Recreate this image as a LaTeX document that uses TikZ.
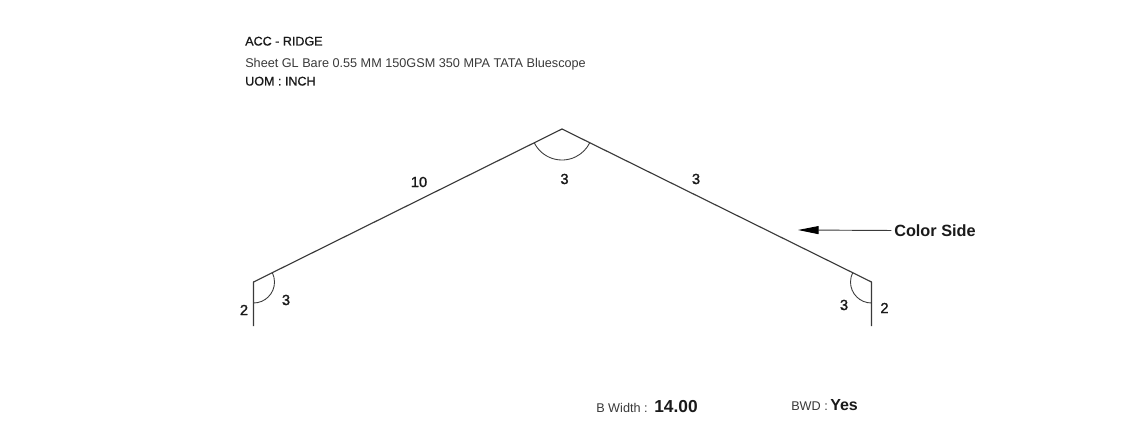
\documentclass[tikz,border=0pt]{standalone}
\usepackage{fontspec}
\setmainfont{Liberation Sans}
\newfontfamily\medfont[FakeBold=1.0]{Liberation Sans}
\newfontfamily\dimfont[FakeBold=1.4]{Liberation Sans}
\usetikzlibrary{arrows.meta}
\definecolor{ink}{HTML}{1A1A1A}
\definecolor{soft}{HTML}{3A3A3A}
\tikzset{
  sheet/.style={draw=soft,line width=0.85pt},
  anglearc/.style={draw=soft,line width=0.65pt},
  dim/.style={font=\fontsize{11}{13}\dimfont,text=ink,inner sep=0pt},
  hd/.style={anchor=base west,inner sep=0pt,text=ink,font=\fontsize{9.4}{11}\medfont},
  sub/.style={anchor=base west,inner sep=0pt,text=soft,font=\fontsize{9.5}{11}\selectfont},
  big/.style={anchor=base west,inner sep=0pt,text=ink},
}
\begin{document}
\begin{tikzpicture}[x=0.75pt,y=0.75pt]
\useasboundingbox (0,0) rectangle (1138,433);
\fill[white] (0,0) rectangle (1138,433);
\coordinate (a) at (253.5,107);
\coordinate (b) at (253.5,151);
\coordinate (c) at (562,304);
\coordinate (d) at (871.5,151);
\coordinate (e) at (871.5,107);
\draw[sheet,line join=round] (a) -- (b) -- (c) -- (d) -- (e);
\draw[anglearc] (b) ++(-90:21) arc[start angle=-90,end angle=26.4,radius=21];
\draw[anglearc] (c) ++(206.4:31) arc[start angle=206.4,end angle=333.6,radius=31];
\draw[anglearc] (d) ++(270:21) arc[start angle=270,end angle=153.6,radius=21];
\node[hd] (title) at (245,387.5) {ACC - RIDGE};
\node[sub] (material) at (245,365) {Sheet GL Bare 0.55 MM 150GSM 350 MPA TATA Bluescope};
\node[hd] (uom) at (245,347.5) {UOM : INCH};
\node[dim] (l10) at (419,251) {10};
\node[dim] (l3top) at (564.5,254) {3};
\node[dim] (l3right) at (696,254) {3};
\node[dim] (l2left) at (244,123) {2};
\node[dim] (l3left) at (286,133) {3};
\node[dim] (l3rb) at (844,128) {3};
\node[dim] (l2right) at (884.5,125) {2};
\node[anchor=west,inner sep=0pt,text=ink,font=\fontsize{12.2}{14}\selectfont\bfseries] (color) at (894,202.5) {Color Side};
\coordinate (tip) at (798,203);
\draw[draw=soft,line width=0.7pt,shorten <=2pt,-{Stealth[black,length=15.5pt,width=6pt,inset=0pt]}] (color.west) -- (tip);
\node[sub] (bw) at (596,21) {B Width :};
\node[big,font=\fontsize{13}{15}\selectfont\bfseries] (bwv) at (654,20.5) {14.00};
\node[sub] (bwd) at (791,23) {BWD :};
\node[big,font=\fontsize{12}{14}\selectfont\bfseries] (bwdv) at (830,23) {Yes};
\end{tikzpicture}
\end{document}
